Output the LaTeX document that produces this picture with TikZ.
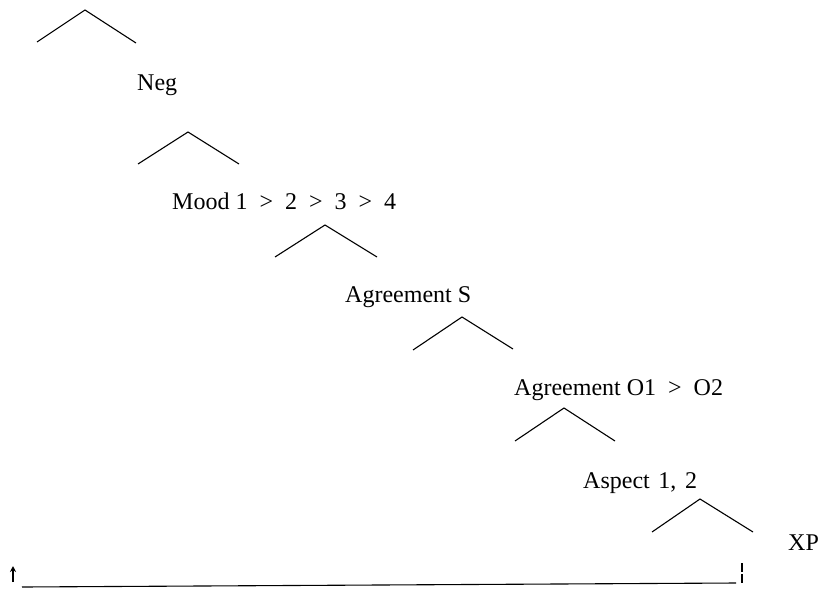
\documentclass[tikz,border=0pt]{standalone}
\usepackage{fontspec}
\setmainfont{Liberation Serif}
\usetikzlibrary{arrows.meta}
\newcommand\gtsign{\hspace{0.5em}>\hspace{0.5em}}
\newcommand\wsp{\hspace{0.36em}}
\begin{document}
\begin{tikzpicture}[x=1pt,y=-1pt,
  branch/.style={line width=1.1pt},
  lbl/.style={anchor=base west, inner sep=0pt, font=\fontsize{24}{28}\selectfont}]
\useasboundingbox (0,0) rectangle (818,589);

% apex and base ends of each branching
\coordinate (a1) at (85,10);   \coordinate (l1) at (37,42);   \coordinate (r1) at (136,43);
\coordinate (a2) at (188,132); \coordinate (l2) at (138,164); \coordinate (r2) at (239,164);
\coordinate (a3) at (325,225); \coordinate (l3) at (275,257); \coordinate (r3) at (377,257);
\coordinate (a4) at (462,317); \coordinate (l4) at (413,350); \coordinate (r4) at (513,349);
\coordinate (a5) at (564,408); \coordinate (l5) at (515,441); \coordinate (r5) at (615,441);
\coordinate (a6) at (700,499); \coordinate (l6) at (652,532); \coordinate (r6) at (753,532);

\foreach \i in {1,...,6}
  \draw[branch] (l\i) -- (a\i) -- (r\i);

% category labels
\node[lbl] (neg)    at (137,90)  {Neg};
\node[lbl] (mood)   at (172,209) {Mood 1\gtsign2\gtsign3\gtsign4};
\node[lbl] (agrs)   at (345,302) {Agreement S};
\node[lbl] (agro)   at (514,395) {Agreement O1\gtsign O2};
\node[lbl] (asp)    at (583,488) {Aspect\wsp1,\wsp2};
\node[lbl] (xp)     at (788,550) {XP};

% movement line along the bottom
\coordinate (up0) at (13,582); \coordinate (up1) at (13,566);
\coordinate (b0) at (22,587);  \coordinate (b1) at (736,583);
\coordinate (d0) at (742,563); \coordinate (d1) at (742,584);
\draw[line width=1.6pt,-{Stealth[length=6pt,width=6pt]}] (up0) -- (up1);
\draw[branch] (b0) -- (b1);
\draw[branch, line width=1.4pt, dash pattern=on 9pt off 2pt] (d0) -- (d1);
\end{tikzpicture}
\end{document}
